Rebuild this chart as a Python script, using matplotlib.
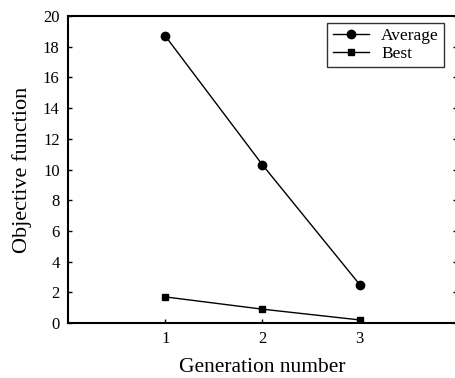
import matplotlib
matplotlib.use("Agg")
from matplotlib import pyplot as plt

generations = [1, 2, 3]
average = [18.7, 10.3, 2.5]
best = [1.7, 0.9, 0.2]

plt.rcParams["font.family"] = ["Liberation Serif", "DejaVu Serif"]

fig = plt.figure(figsize=(4.56, 3.78), dpi=100)
ax = fig.add_axes([68 / 456, 1 - 323 / 378, (457 - 68) / 456, (323 - 16) / 378])

ax.plot(generations, average, color="black", marker="o", markersize=6, linewidth=1, label="Average")
ax.plot(generations, best, color="black", marker="s", markersize=5, linewidth=1, label="Best")

ax.set_xlim(0, 4)
ax.set_ylim(0, 20)
ax.set_xticks(generations)
ax.set_yticks(range(0, 21, 2))
ax.tick_params(direction="in", length=3, width=1, labelsize=12, pad=6, right=True)
for s in ax.spines.values():
    s.set_linewidth(1.5)

ax.set_xlabel("Generation number", fontsize=15.5, labelpad=8)
ax.set_ylabel("Objective function", fontsize=16, labelpad=8)

leg = ax.legend(loc="upper right", fontsize=12.5, frameon=True, fancybox=False,
                edgecolor="black", borderpad=0.3, labelspacing=0.1, handlelength=2.1,
                handletextpad=0.7, borderaxespad=0.4, bbox_to_anchor=(0.985, 1.0))
leg.get_frame().set_linewidth(1)

fig.savefig("out.png", dpi=100)
